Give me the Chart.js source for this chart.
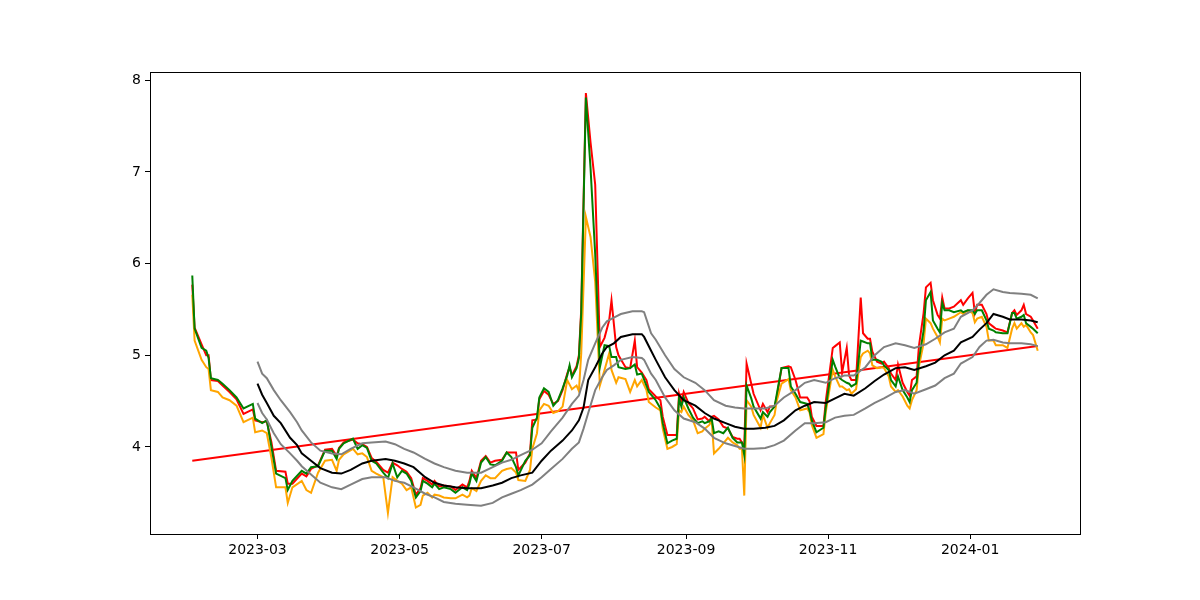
<!DOCTYPE html>
<html>
<head>
<meta charset="utf-8">
<script src="https://cdn.jsdelivr.net/npm/chart.js@4.4.0/dist/chart.umd.min.js"></script>
<style>
  html, body { margin: 0; padding: 0; background: #fff; }
  #wrap { width: 1200px; height: 600px; }
</style>
</head>
<body>
<div id="wrap"><canvas id="chart" width="1200" height="600"></canvas></div>
<script>
// daily series (one line per month)
const priceDates = [
  "2023-02-01","2023-02-02","2023-02-05","2023-02-07","2023-02-08","2023-02-09","2023-02-12","2023-02-14","2023-02-17","2023-02-20","2023-02-23","2023-02-27","2023-02-28",
  "2023-03-03","2023-03-05","2023-03-07","2023-03-09","2023-03-13","2023-03-14","2023-03-16","2023-03-20","2023-03-22","2023-03-24","2023-03-27","2023-03-30",
  "2023-04-02","2023-04-04","2023-04-05","2023-04-07","2023-04-11","2023-04-13","2023-04-15","2023-04-17","2023-04-19","2023-04-21","2023-04-24","2023-04-26","2023-04-28","2023-04-30",
  "2023-05-02","2023-05-04","2023-05-06","2023-05-08","2023-05-10","2023-05-11","2023-05-13","2023-05-15","2023-05-16","2023-05-18","2023-05-20","2023-05-23","2023-05-25","2023-05-28","2023-05-30","2023-05-31",
  "2023-06-01","2023-06-03","2023-06-05","2023-06-07","2023-06-09","2023-06-11","2023-06-14","2023-06-16","2023-06-18","2023-06-20","2023-06-21","2023-06-24","2023-06-26","2023-06-27","2023-06-29","2023-06-30",
  "2023-07-02","2023-07-04","2023-07-06","2023-07-08","2023-07-10","2023-07-12","2023-07-13","2023-07-14","2023-07-16","2023-07-17","2023-07-18","2023-07-20","2023-07-22","2023-07-24","2023-07-26","2023-07-28","2023-07-30","2023-07-31",
  "2023-08-02","2023-08-03","2023-08-06","2023-08-08","2023-08-10","2023-08-11","2023-08-13","2023-08-15","2023-08-16","2023-08-19","2023-08-21","2023-08-22","2023-08-24","2023-08-26","2023-08-28","2023-08-29","2023-08-30","2023-08-31",
  "2023-09-02","2023-09-04","2023-09-06","2023-09-08","2023-09-09","2023-09-11","2023-09-12","2023-09-13","2023-09-15","2023-09-17","2023-09-19","2023-09-21","2023-09-23","2023-09-24","2023-09-25","2023-09-26","2023-09-27","2023-09-29","2023-09-30",
  "2023-10-03","2023-10-04","2023-10-06","2023-10-07","2023-10-09","2023-10-10","2023-10-12","2023-10-15","2023-10-16","2023-10-18","2023-10-20","2023-10-23","2023-10-24","2023-10-25","2023-10-27","2023-10-30","2023-10-31",
  "2023-11-03","2023-11-04","2023-11-06","2023-11-07","2023-11-09","2023-11-10","2023-11-11","2023-11-13","2023-11-15","2023-11-16","2023-11-18","2023-11-19","2023-11-20","2023-11-22","2023-11-24","2023-11-25","2023-11-27","2023-11-28","2023-11-30",
  "2023-12-01","2023-12-03","2023-12-05","2023-12-06","2023-12-07","2023-12-09","2023-12-10","2023-12-12","2023-12-13","2023-12-15","2023-12-16","2023-12-18","2023-12-19","2023-12-20","2023-12-21","2023-12-23","2023-12-25","2023-12-28","2023-12-29","2023-12-31",
  "2024-01-02","2024-01-03","2024-01-04","2024-01-06","2024-01-08","2024-01-09","2024-01-11","2024-01-12","2024-01-15","2024-01-17","2024-01-19","2024-01-20","2024-01-21","2024-01-23","2024-01-24","2024-01-25","2024-01-27","2024-01-28","2024-01-30"
];
const redValues = [
  5.77,5.30,5.12,5.00,5.00,4.73,4.72,4.67,4.60,4.52,4.36,4.41,4.29,
  4.27,4.28,4.05,3.74,3.73,3.60,3.60,3.71,3.68,3.76,3.80,3.97,
  3.98,3.90,3.99,4.05,4.08,4.04,4.03,4.00,3.88,3.84,3.75,3.72,3.83,3.80,
  3.76,3.73,3.66,3.48,3.55,3.66,3.63,3.59,3.63,3.57,3.58,3.57,3.53,3.59,3.56,3.63,
  3.74,3.66,3.85,3.90,3.83,3.85,3.86,3.94,3.94,3.94,3.75,3.83,3.93,4.29,4.30,4.52,
  4.61,4.57,4.47,4.50,4.62,4.80,4.87,4.78,4.88,5.00,5.50,7.86,7.32,6.86,5.09,5.19,5.38,5.60,
  5.09,5.00,4.87,4.86,5.16,4.87,4.81,4.73,4.63,4.55,4.51,4.33,4.13,4.13,4.13,4.58,4.48,4.60,
  4.48,4.42,4.30,4.31,4.33,4.28,4.33,4.34,4.30,4.22,4.20,4.11,4.09,4.09,4.05,4.00,4.91,4.69,4.58,
  4.40,4.47,4.38,4.44,4.44,4.55,4.86,4.88,4.87,4.73,4.54,4.54,4.50,4.33,4.23,4.23,4.50,
  5.08,5.10,5.14,4.81,5.08,4.78,4.73,4.73,5.63,5.24,5.18,5.18,5.04,4.93,4.91,4.93,4.86,4.80,4.73,
  4.90,4.70,4.60,4.56,4.73,4.77,5.10,5.46,5.74,5.79,5.60,5.44,5.40,5.63,5.51,5.51,5.53,5.60,5.55,5.62,
  5.68,5.46,5.55,5.55,5.45,5.35,5.31,5.29,5.27,5.25,5.46,5.49,5.44,5.49,5.55,5.45,5.42,5.38,5.29
];
const orangeValues = [
  5.66,5.16,4.95,4.87,4.85,4.62,4.60,4.54,4.51,4.45,4.27,4.32,4.16,
  4.18,4.15,3.88,3.56,3.56,3.39,3.56,3.63,3.53,3.50,3.72,3.85,
  3.86,3.74,3.86,3.92,3.98,3.92,3.93,3.89,3.74,3.71,3.67,3.28,3.67,3.63,
  3.60,3.53,3.56,3.34,3.37,3.47,3.50,3.45,3.48,3.47,3.45,3.44,3.44,3.48,3.45,3.47,
  3.55,3.52,3.63,3.69,3.66,3.66,3.74,3.76,3.77,3.72,3.64,3.63,3.75,3.98,4.15,4.40,
  4.47,4.45,4.37,4.39,4.44,4.73,4.68,4.63,4.67,4.61,5.02,6.51,6.29,5.80,4.67,4.84,5.02,4.84,
  4.70,4.76,4.74,4.60,4.73,4.66,4.73,4.62,4.49,4.43,4.40,4.20,3.98,4.00,4.03,4.40,4.38,4.44,
  4.35,4.29,4.15,4.17,4.20,4.24,4.29,3.93,3.98,4.04,4.10,4.05,4.02,3.98,3.98,3.47,4.51,4.44,4.35,
  4.21,4.35,4.21,4.26,4.35,4.51,4.69,4.74,4.62,4.54,4.40,4.42,4.38,4.24,4.10,4.14,4.38,
  4.84,4.77,4.66,4.66,4.62,4.63,4.58,4.63,4.98,5.02,5.05,5.02,4.89,4.86,4.87,4.86,4.77,4.66,4.60,
  4.62,4.55,4.45,4.42,4.51,4.62,4.88,5.13,5.40,5.35,5.29,5.20,5.14,5.40,5.38,5.40,5.42,5.47,5.45,5.49,
  5.46,5.36,5.40,5.42,5.31,5.16,5.16,5.11,5.11,5.08,5.29,5.35,5.29,5.35,5.31,5.33,5.25,5.22,5.05
];
const greenValues = [
  5.87,5.29,5.08,5.05,4.97,4.75,4.73,4.69,4.62,4.54,4.42,4.47,4.31,
  4.26,4.29,4.00,3.71,3.66,3.53,3.63,3.74,3.71,3.78,3.79,3.96,
  3.96,3.87,3.98,4.04,4.09,3.98,4.02,3.99,3.85,3.82,3.72,3.66,3.82,3.67,
  3.74,3.71,3.63,3.45,3.52,3.63,3.60,3.56,3.60,3.54,3.56,3.54,3.50,3.56,3.53,3.60,
  3.71,3.63,3.83,3.89,3.81,3.80,3.85,3.94,3.89,3.78,3.69,3.85,3.91,4.21,4.32,4.54,
  4.64,4.60,4.45,4.51,4.64,4.78,4.89,4.76,4.86,4.97,5.46,7.81,7.04,6.10,4.87,5.11,5.10,4.98,
  4.98,4.87,4.85,4.86,4.90,4.79,4.80,4.67,4.60,4.51,4.42,4.26,4.04,4.07,4.09,4.53,4.44,4.54,
  4.42,4.32,4.26,4.28,4.26,4.28,4.31,4.15,4.17,4.15,4.21,4.10,4.05,4.05,4.05,3.91,4.67,4.53,4.44,
  4.31,4.38,4.33,4.38,4.44,4.58,4.86,4.86,4.66,4.58,4.49,4.47,4.40,4.29,4.16,4.21,4.43,
  4.95,4.88,4.75,4.73,4.70,4.69,4.66,4.69,5.16,5.15,5.13,5.13,4.95,4.95,4.93,4.89,4.84,4.73,4.66,
  4.77,4.62,4.54,4.49,4.62,4.70,4.95,5.27,5.60,5.69,5.38,5.29,5.25,5.57,5.49,5.49,5.47,5.49,5.47,5.49,
  5.49,5.45,5.49,5.49,5.38,5.29,5.27,5.25,5.24,5.24,5.46,5.46,5.40,5.42,5.44,5.35,5.31,5.29,5.24
];

// rolling mean and band
const bandDates = [
  "2023-03-01","2023-03-03","2023-03-05","2023-03-08","2023-03-11","2023-03-15","2023-03-18","2023-03-20","2023-03-24","2023-03-28",
  "2023-04-02","2023-04-06","2023-04-10","2023-04-15","2023-04-19","2023-04-25","2023-04-29",
  "2023-05-03","2023-05-07","2023-05-12","2023-05-16","2023-05-20","2023-05-25","2023-05-30",
  "2023-06-05","2023-06-10","2023-06-14","2023-06-18","2023-06-22","2023-06-27",
  "2023-07-01","2023-07-05","2023-07-10","2023-07-14","2023-07-17","2023-07-19","2023-07-21","2023-07-24","2023-07-27","2023-07-29",
  "2023-08-01","2023-08-04","2023-08-09","2023-08-13","2023-08-14","2023-08-17","2023-08-19","2023-08-23","2023-08-27","2023-08-31",
  "2023-09-05","2023-09-09","2023-09-13","2023-09-18","2023-09-22","2023-09-26","2023-09-30",
  "2023-10-05","2023-10-09","2023-10-13","2023-10-18","2023-10-22","2023-10-26","2023-10-31",
  "2023-11-04","2023-11-08","2023-11-12","2023-11-17","2023-11-21","2023-11-25","2023-11-30",
  "2023-12-04","2023-12-08","2023-12-13","2023-12-17","2023-12-21","2023-12-25","2023-12-28",
  "2024-01-02","2024-01-05","2024-01-08","2024-01-11","2024-01-15","2024-01-18","2024-01-23","2024-01-27","2024-01-30"
];
const meanValues = [
  4.69,4.57,4.48,4.34,4.26,4.10,4.02,3.93,3.85,3.77,
  3.72,3.71,3.75,3.82,3.85,3.87,3.85,
  3.82,3.78,3.67,3.61,3.58,3.56,3.55,
  3.55,3.58,3.61,3.66,3.69,3.72,
  3.85,3.96,4.07,4.18,4.29,4.43,4.73,4.87,5.02,5.09,
  5.13,5.20,5.23,5.23,5.20,5.05,4.95,4.76,4.62,4.51,
  4.45,4.37,4.31,4.26,4.22,4.20,4.20,
  4.21,4.23,4.29,4.40,4.45,4.49,4.48,
  4.53,4.58,4.56,4.64,4.72,4.79,4.86,
  4.87,4.84,4.88,4.92,5.00,5.05,5.14,
  5.20,5.28,5.35,5.45,5.42,5.39,5.39,5.38,5.36
];
const upperValues = [
  4.93,4.80,4.75,4.62,4.51,4.38,4.27,4.18,4.05,3.96,
  3.93,3.92,3.98,4.04,4.05,4.06,4.03,
  3.98,3.94,3.87,3.82,3.78,3.74,3.72,
  3.72,3.78,3.83,3.86,3.91,3.97,
  4.04,4.17,4.32,4.47,4.56,4.73,4.95,5.13,5.30,5.37,
  5.41,5.45,5.48,5.48,5.47,5.24,5.17,5.00,4.85,4.76,
  4.70,4.62,4.51,4.45,4.43,4.42,4.42,
  4.42,4.45,4.54,4.62,4.70,4.73,4.70,
  4.75,4.78,4.78,4.87,5.00,5.09,5.13,
  5.11,5.08,5.12,5.18,5.25,5.29,5.42,
  5.49,5.57,5.66,5.72,5.69,5.68,5.67,5.66,5.62
];
const lowerValues = [
  4.48,4.37,4.30,4.15,4.03,3.93,3.85,3.79,3.70,3.61,
  3.56,3.54,3.59,3.65,3.67,3.67,3.63,
  3.61,3.56,3.49,3.45,3.40,3.38,3.37,
  3.36,3.39,3.45,3.49,3.53,3.59,
  3.67,3.76,3.87,3.98,4.05,4.20,4.37,4.62,4.76,4.84,
  4.89,4.95,4.98,4.97,4.95,4.80,4.73,4.54,4.40,4.31,
  4.27,4.20,4.10,4.04,4.01,3.98,3.98,
  3.99,4.02,4.07,4.18,4.26,4.26,4.27,
  4.32,4.34,4.35,4.42,4.48,4.53,4.60,
  4.62,4.58,4.63,4.67,4.75,4.80,4.91,
  4.98,5.09,5.16,5.17,5.14,5.13,5.13,5.12,5.10
];

// straight trend line
const trendDates = ["2023-02-01", "2024-01-30"];
const trendValues = [3.85, 5.10];

const tickDates = ["2023-03-01", "2023-05-01", "2023-07-01", "2023-09-01", "2023-11-01", "2024-01-01"];
const tickLabels = ["2023-03", "2023-05", "2023-07", "2023-09", "2023-11", "2024-01"];
const yTicks = [4, 5, 6, 7, 8];

function dayNum(s) {
  const [y, m, d] = s.split("-").map(Number);
  return Date.UTC(y, m - 1, d) / 86400000;
}
function pts(ds, vs) {
  return ds.map((d, i) => ({ x: dayNum(d), y: vs[i] }));
}
// higher order = drawn earlier (underneath)
function line(label, ds, vs, color, order) {
  return {
    label, data: pts(ds, vs), borderColor: color, backgroundColor: color,
    borderWidth: 2, pointRadius: 0, tension: 0, fill: false, order,
  };
}

// matplotlib-like auto limits (5% margin)
const xs = priceDates.map(dayNum);
const xMin = Math.min(...xs), xMax = Math.max(...xs);
const xPad = (xMax - xMin) * 0.05;
const allY = redValues.concat(orangeValues, greenValues, upperValues, lowerValues);
const yMin = Math.min(...allY), yMax = Math.max(...allY);
const yPad = (yMax - yMin) * 0.05;

const frame = {
  id: "frame",
  afterDraw(chart) {
    const { ctx, chartArea: { left, right, top, bottom } } = chart;
    ctx.save();
    ctx.strokeStyle = "#000";
    ctx.lineWidth = 1;
    ctx.strokeRect(Math.round(left) + 0.5, Math.round(top) + 0.5, Math.round(right - left), Math.round(bottom - top));
    ctx.restore();
  },
};

const font = { family: "'DejaVu Sans', sans-serif", size: 14 };

new Chart(document.getElementById("chart"), {
  type: "line",
  data: {
    datasets: [
      line("trend", trendDates, trendValues, "#ff0000", 8),
      line("red", priceDates, redValues, "#ff0000", 7),
      line("orange", priceDates, orangeValues, "#ffa500", 6),
      line("green", priceDates, greenValues, "#008000", 5),
      line("mean", bandDates, meanValues, "#000000", 4),
      line("upper", bandDates, upperValues, "#808080", 3),
      line("lower", bandDates, lowerValues, "#808080", 2),
    ],
  },
  options: {
    responsive: false,
    animation: false,
    devicePixelRatio: 1,
    layout: { padding: { left: 0, top: 72, right: 120, bottom: 0 } },
    plugins: { legend: { display: false }, tooltip: { enabled: false } },
    scales: {
      x: {
        type: "linear",
        min: xMin - xPad,
        max: xMax + xPad,
        afterFit: (s) => { s.height = 66; },
        afterBuildTicks: (s) => { s.ticks = tickDates.map((d) => ({ value: dayNum(d) })); },
        ticks: {
          autoSkip: false, maxRotation: 0, color: "#000", font, padding: 3,
          callback: (v, i) => tickLabels[i],
        },
        grid: { display: true, drawOnChartArea: false, drawTicks: true, tickLength: 5, tickColor: "#000", tickWidth: 1 },
        border: { display: false },
      },
      y: {
        type: "linear",
        min: yMin - yPad,
        max: yMax + yPad,
        afterFit: (s) => { s.width = 150; },
        afterBuildTicks: (s) => { s.ticks = yTicks.map((v) => ({ value: v })); },
        ticks: { color: "#000", font, padding: 4, callback: (v) => String(v) },
        grid: { display: true, drawOnChartArea: false, drawTicks: true, tickLength: 5, tickColor: "#000", tickWidth: 1 },
        border: { display: false },
      },
    },
  },
  plugins: [frame],
});
</script>
</body>
</html>
